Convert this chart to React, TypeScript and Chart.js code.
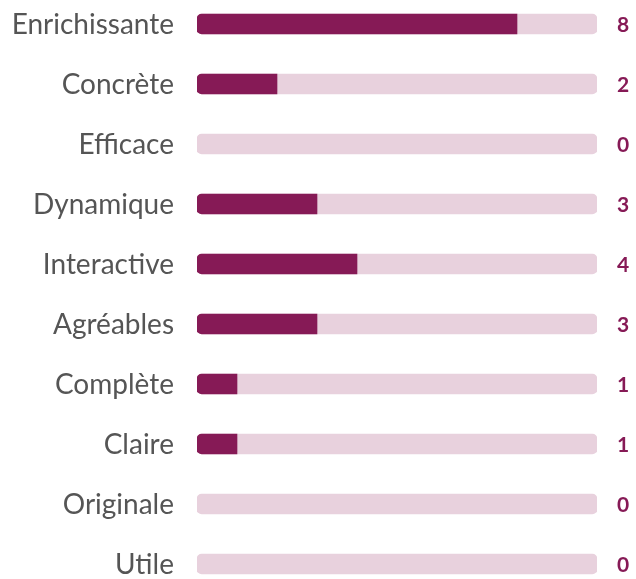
import React, { useEffect, useRef } from "react";
import { Chart, registerables } from "chart.js";

Chart.register(...registerables);

const categories = [
  "Enrichissante",
  "Concrète",
  "Efficace",
  "Dynamique",
  "Interactive",
  "Agréables",
  "Complète",
  "Claire",
  "Originale",
  "Utile",
];
const values = [8, 2, 0, 3, 4, 3, 1, 1, 0, 0];
const maxValue = 10;
const trackValues = categories.map(() => maxValue);

const DARK = "#861a56";
const LIGHT = "#e8d1dd";

const labelsPlugin = {
  id: "sideLabels",
  afterDatasetsDraw(chart: any) {
    const { ctx, chartArea } = chart;
    const yScale = chart.scales.y;
    ctx.save();
    ctx.textBaseline = "middle";
    categories.forEach((c, i) => {
      const y = yScale.getPixelForValue(i);
      ctx.font = "28px Lato";
      ctx.fillStyle = "#555555";
      ctx.textAlign = "right";
      ctx.fillText(c, chartArea.left - 23, y + 1);
      ctx.font = "bold 21px Lato";
      ctx.fillStyle = DARK;
      ctx.textAlign = "left";
      ctx.fillText(String(values[i]), chartArea.right + 20, y + 1);
    });
    ctx.restore();
  },
};

export default function App() {
  const ref = useRef<HTMLCanvasElement>(null);
  useEffect(() => {
    if (!ref.current) return;
    const chart = new Chart(ref.current, {
      type: "bar",
      data: {
        labels: categories,
        datasets: [
          {
            data: values,
            backgroundColor: (c: any) => (c.raw > 0 ? DARK : "rgba(0,0,0,0)"),
            borderSkipped: false,
            borderRadius: { topLeft: 5, bottomLeft: 5, topRight: 0, bottomRight: 0 },
            barThickness: 20,
            grouped: false,
            order: 1,
          },
          {
            data: trackValues,
            backgroundColor: LIGHT,
            borderSkipped: false,
            borderRadius: 5,
            barThickness: 20,
            grouped: false,
            order: 2,
          },
        ],
      },
      options: {
        indexAxis: "y",
        animation: false,
        responsive: false,
        layout: { padding: { left: 197, right: 39, top: 0, bottom: 0 } },
        plugins: { legend: { display: false }, tooltip: { enabled: false } },
        scales: {
          x: { display: false, min: 0, max: maxValue },
          y: { display: false },
        },
      },
      plugins: [labelsPlugin],
    });
    return () => chart.destroy();
  }, []);
  return (
    <div style={{ position: "fixed", left: 0, top: 0, width: 636, height: 579, overflow: "hidden", background: "#fff" }}>
      <canvas ref={ref} width={636} height={600} style={{ position: "absolute", left: 0, top: -6, width: 636, height: 600 }} />
    </div>
  );
}
